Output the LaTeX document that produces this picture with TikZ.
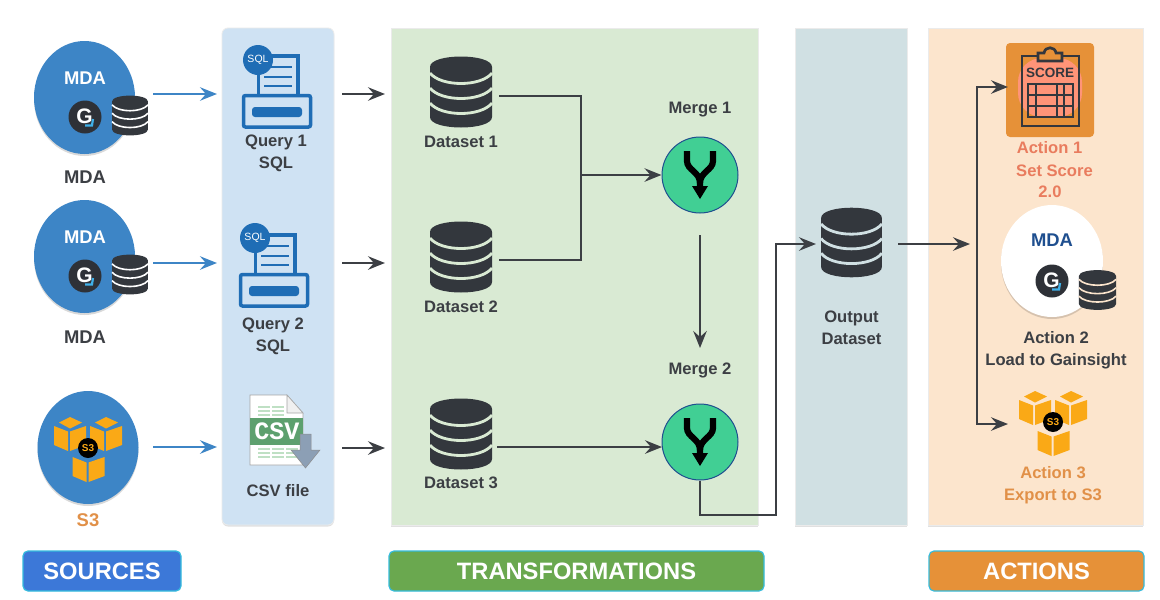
\documentclass[tikz,border=0pt]{standalone}
\usepackage{fontspec}
\setmainfont{Liberation Sans}
\setmonofont{Liberation Mono}
\usetikzlibrary{arrows.meta,shadows}
\definecolor{ink}{HTML}{3C3F44}
\definecolor{iconink}{HTML}{33373D}
\definecolor{mdablue}{HTML}{3D85C6}
\definecolor{sqlblue}{HTML}{1F6DB5}
\definecolor{panelblue}{HTML}{CFE2F3}
\definecolor{panelgreen}{HTML}{D9EAD3}
\definecolor{panelteal}{HTML}{D0E0E3}
\definecolor{panelorange}{HTML}{FCE5CD}
\definecolor{tabblue}{HTML}{3C78D8}
\definecolor{tabgreen}{HTML}{6AA84F}
\definecolor{taborange}{HTML}{E69138}
\definecolor{tabedge}{HTML}{35BCDD}
\definecolor{cube}{HTML}{FAA916}
\definecolor{mergegreen}{HTML}{41CF94}
\definecolor{mergeedge}{HTML}{1F4F8F}
\definecolor{salmon}{HTML}{FF9478}
\definecolor{actionred}{HTML}{E97C5E}
\definecolor{actionorange}{HTML}{E19048}
\definecolor{csvgreen}{HTML}{5DA06E}
\definecolor{csvpale}{HTML}{BFE0C4}
\definecolor{arrowgray}{HTML}{8C9FB5}
\definecolor{gblue}{HTML}{3FB0E8}
\tikzset{
  panel/.style={draw=black!8,line width=.8pt,drop shadow={shadow xshift=0pt,shadow yshift=-1.5pt,opacity=.12,fill=black}},
  tabbox/.style={draw=tabedge,line width=1.2pt,rounded corners=5pt,text=white,font=\bfseries\fontsize{23.7}{26}\selectfont,inner sep=0pt},
  lbl/.style={text=ink,font=\bfseries\fontsize{16.6}{22.2}\selectfont,align=center,inner sep=0pt},
  big/.style={text=ink,font=\bfseries\fontsize{18.4}{22}\selectfont,inner sep=0pt},
  blob/.style={fill=mdablue,drop shadow={shadow xshift=0pt,shadow yshift=-2pt,opacity=.15,fill=black}},
  bluearrow/.style={draw=mdablue,line width=2.2pt,-{Stealth[length=17pt,width=13.5pt,inset=6pt]}},
  flow/.style={draw=ink,line width=2.2pt,-{Stealth[length=17pt,width=13.5pt,inset=6pt]}},
  flowplain/.style={draw=ink,line width=2.2pt},
  mergenode/.style={circle,draw=mergeedge,line width=1pt,fill=mergegreen,minimum size=76pt,inner sep=0pt},
}
% database icon: centre x, centre y, x scale, y scale, gap colour, gap width
\newcommand{\dbicon}[6]{%
  \begin{scope}[shift={(#1,#2)},xscale=#3,yscale=#4]
    \fill[iconink] (-31,-25) .. controls (-31,-39) and (31,-39) .. (31,-25) -- (31,25)
       .. controls (31,39) and (-31,39) .. (-31,25) -- cycle;
    \foreach \yy in {-19,-4,11}{
      \draw[#5,line width=#6] (-31,\yy) .. controls (-20,\yy+14) and (20,\yy+14) .. (31,\yy);
    }
  \end{scope}}
% Gainsight badge
\newcommand{\gicon}[2]{%
  \begin{scope}[shift={(#1,#2)}]
    \fill[iconink!90!black] (0,0) circle (16.5);
    \node[text=white,inner sep=0pt,font=\bfseries\fontsize{21}{21}\selectfont] at (-.5,-.5) {G};
    \draw[line width=2.2pt,color=gblue] (0,8.5) -- (7,8.5) -- (8,2);
  \end{scope}}
% S3 cubes
\newcommand{\cubefaces}[2]{%
  \begin{scope}[shift={(#1,#2)}]
    \fill[cube] (-34,-22) -- (-20,-16.5) -- (-20,3) -- (-34,-3) -- cycle;
    \fill[cube] (-18,-16.5) -- (-2,-22) -- (-2,-3) -- (-18,3) -- cycle;
  \end{scope}}
\newcommand{\cubetop}[2]{%
  \fill[cube] (#1-29,#2-25.5) -- (#1-18,#2-31) -- (#1-6,#2-25.5) -- (#1-18,#2-19.5) -- cycle;}
\newcommand{\sthree}[2]{%
  \begin{scope}[shift={(#1,#2)}]
    \cubefaces{0}{0}\cubetop{0}{0}
    \cubefaces{36}{0}\cubetop{36}{0}
    \cubefaces{18.5}{31}
    \fill[black] (0,0) circle (10);
    \node[text=cube,inner sep=0pt,font=\bfseries\fontsize{10}{10}\selectfont] at (0,0) {S3};
  \end{scope}}
% SQL printer icon: x, y of base box top-left
\newcommand{\sqlicon}[4]{%
  \begin{scope}[shift={(#1,#2)}]
    \draw[sqlblue,line width=3.5pt,rounded corners=2pt] (1.5,1.5) rectangle (68.5,33);
    \fill[sqlblue,rounded corners=3pt] (10,13) rectangle (60,23);
    \draw[sqlblue,line width=3.2pt] (16.5,0) -- (16.5,-38) -- (56,-38) -- (56,0);
    \foreach \yy in {-27,-17,-8}{\draw[sqlblue,line width=2.2pt] (22,\yy) -- (50,\yy);}
    \fill[sqlblue] (#3,#4) circle (15);
    \node[text=white,inner sep=0pt,font=\fontsize{10.5}{11}\selectfont] at (#3,#4) {SQL};
  \end{scope}}
% merge glyph
\newcommand{\mergeglyph}[2]{%
  \begin{scope}[shift={(#1,#2)}]
    \draw[black,line width=6.2pt] (-13,-24) -- (-13,-14) .. controls (-13,-5) and (0,-3) .. (0,8);
    \draw[black,line width=6.2pt] (13,-24) -- (13,-14) .. controls (13,-5) and (0,-3) .. (0,8) -- (0,12);
    \fill[black] (-8,11) -- (8,11) -- (0,24) -- cycle;
  \end{scope}}
\begin{document}
\begin{tikzpicture}[x=1pt,y=-1pt]
\useasboundingbox (0,0) rectangle (1160,600);
\fill[white] (0,0) rectangle (1160,600);

% panels
\path[panel,fill=panelblue,rounded corners=6pt] (222,28) rectangle (334,525);
\path[panel,fill=panelgreen] (391,28) rectangle (758,525);
\path[panel,fill=panelteal] (795,28) rectangle (907,525);
\path[panel,fill=panelorange] (928,28) rectangle (1143,525);

% tabs
\node[tabbox,fill=tabblue,minimum width=158pt,minimum height=40pt] (tabsrc) at (102,571) {\raisebox{-1pt}{SOURCES}};
\node[tabbox,fill=tabgreen,minimum width=375pt,minimum height=40pt] (tabtrans) at (576.5,571) {\raisebox{-1pt}{TRANSFORMATIONS}};
\node[tabbox,fill=taborange,minimum width=215pt,minimum height=40pt] (tabact) at (1036.5,571) {\raisebox{-1pt}{ACTIONS}};

% sources
\path[blob] (84.5,97.5) ellipse (50.5 and 56.5);
\path[blob] (84.5,256.5) ellipse (50.5 and 56.5);
\path[blob] (88,447.5) ellipse (50.5 and 56.5);
\node[big,text=white] (mda1t) at (85,78) {MDA};
\node[big,text=white] (mda2t) at (85,237) {MDA};
\gicon{85}{117}
\gicon{85}{276}
\dbicon{130}{115.5}{.58}{.56}{white}{1.6pt}
\dbicon{130}{274.5}{.58}{.56}{white}{1.6pt}
\sthree{88}{448}
\node[big] (mda1l) at (85,177.5) {MDA};
\node[big] (mda2l) at (85,337) {MDA};
\node[big,text=actionorange] (s3l) at (88,520) {S3};

% queries
\sqlicon{242}{94}{16}{-34}
\sqlicon{239}{273}{16}{-35}
\node[lbl] (q1l) at (276,153.5) {Query 1\\SQL};
\node[lbl] (q2l) at (273,336.5) {Query 2\\SQL};

% CSV
\fill[white,draw=black!35,line width=.6pt] (250,395) -- (287,395) -- (303,413) -- (303,465) -- (250,465) -- cycle;
\fill[black!6,draw=black!35,line width=.6pt] (287,395) -- (287,413) -- (303,413) -- cycle;
\foreach \yy in {407,411,415,449,453,457}{
  \draw[csvpale,line width=1.5pt] (258,\yy) -- (270,\yy);
  \draw[csvpale,line width=1.5pt] (272,\yy) -- (284,\yy);
}
\foreach \yy in {449,453,457}{\draw[csvpale,line width=1.5pt] (286,\yy) -- (298,\yy);}
\fill[csvgreen] (250,418) rectangle (303,445);
\node[text=white,inner sep=0pt,font=\ttfamily\bfseries\fontsize{25}{25}\selectfont] (csvt) at (277,431.5) {CSV};
\fill[arrowgray,draw=black!45,line width=.5pt] (300,434) -- (311,434) -- (311,450) -- (320,450) -- (305.5,468) -- (291,450) -- (300,450) -- cycle;
\node[lbl] (csvl) at (278,491) {CSV file};

% datasets
\dbicon{461}{92}{1}{1}{panelgreen}{2.8pt}
\dbicon{461}{257}{1}{1}{panelgreen}{2.8pt}
\dbicon{461}{434}{1}{1}{panelgreen}{2.8pt}
\node[lbl] (d1l) at (461,142) {Dataset 1};
\node[lbl] (d2l) at (461,307) {Dataset 2};
\node[lbl] (d3l) at (461,483) {Dataset 3};

% merges
\node[mergenode] (m1) at (700,175) {};
\node[mergenode] (m2) at (700,442) {};
\mergeglyph{700}{175}
\mergeglyph{700}{442}
\node[lbl] (m1l) at (700,109.5) {Merge 1};
\node[lbl] (m2l) at (700,370.5) {Merge 2};

% output
\dbicon{851.5}{242.5}{.98}{.98}{panelteal}{2.8pt}
\node[lbl] (outl) at (851.5,328) {Output\\Dataset};

% actions
\fill[taborange,rounded corners=4pt] (1006,43) rectangle (1094,137);
\fill[salmon,rounded corners=24pt] (1018,58) rectangle (1082,117);
\draw[iconink,line width=2.7pt] (1022,56) rectangle (1079,126);
\draw[iconink,line width=2.7pt,fill=taborange] (1038,61) -- (1038,53) -- (1044,53) .. controls (1045,46) and (1055,46) .. (1056,53) -- (1062,53) -- (1062,61) -- cycle;
\node[text=iconink,inner sep=0pt,font=\bfseries\fontsize{13.5}{13}\selectfont] (scoret) at (1050,73) {SCORE};
\draw[iconink,line width=2.7pt] (1028,84) rectangle (1073,117);
\foreach \xx in {1036,1057,1064}{\draw[iconink,line width=2.2pt] (\xx,84) -- (\xx,117);}
\foreach \yy in {95,106}{\draw[iconink,line width=2.2pt] (1028,\yy) -- (1073,\yy);}
\node[lbl,text=actionred] (a1l) at (1049.5,148) {Action 1};
\node[lbl,text=actionred] (a1m) at (1054.5,171) {Set Score};
\node[lbl,text=actionred] (a1n) at (1050,192) {2.0};

\path[fill=white,drop shadow={shadow xshift=0pt,shadow yshift=-2pt,opacity=.15,fill=black}] (1052,261) ellipse (51 and 56);
\node[big,text=mergeedge] (mda3t) at (1052,240) {MDA};
\gicon{1052}{281}
\dbicon{1097.5}{290}{.6}{.56}{panelorange}{1.6pt}
\node[lbl] (a2l) at (1056,350.5) {Action 2\\Load to Gainsight};
\sthree{1053}{422}
\node[lbl,text=actionorange] (a3l) at (1053,485.5) {Action 3\\Export to S3};

% connector end points
\coordinate (src1) at (153,94);
\coordinate (src2) at (153,263);
\coordinate (src3) at (153,447);
\coordinate (q1in) at (217,94);
\coordinate (q2in) at (217,263);
\coordinate (csvin) at (217,447);
\coordinate (q1out) at (342,94);
\coordinate (q2out) at (342,263);
\coordinate (csvout) at (342,448);
\coordinate (d1in) at (385,94);
\coordinate (d2in) at (385,263);
\coordinate (d3in) at (385,448);
\coordinate (d1out) at (499,96);
\coordinate (d2out) at (499,260);
\coordinate (d3out) at (497,447);
\coordinate (junction) at (581,175);
\coordinate (m2in) at (662,447);
\coordinate (m1out) at (700,235);
\coordinate (m2top) at (700,348);
\coordinate (outin) at (816,244);
\coordinate (outout) at (898,244);
\coordinate (bus) at (970,244);
\coordinate (a1in) at (1008,87);
\coordinate (a3in) at (1008,424);
\coordinate (trunk) at (977,244);
\coordinate (low) at (700,515);
\coordinate (lowr) at (776,515);
\coordinate (upr) at (776,244);

% connectors
\draw[bluearrow] (src1) -- (q1in);
\draw[bluearrow] (src2) -- (q2in);
\draw[bluearrow] (src3) -- (csvin);
\draw[flow] (q1out) -- (d1in);
\draw[flow] (q2out) -- (d2in);
\draw[flow] (csvout) -- (d3in);
\draw[flowplain] (d1out) -| (junction);
\draw[flowplain] (d2out) -| (junction);
\draw[flow] (junction) -- (m1.west);
\draw[flow] (d3out) -- (m2in);
\draw[flow] (m1out) -- (m2top);
\draw[flow] (m2.south) -- (low) -- (lowr) -- (upr) -- (outin);
\draw[flow] (outout) -- (bus);
\draw[flow] (trunk) |- (a1in);
\draw[flow] (trunk) |- (a3in);
\end{tikzpicture}
\end{document}
